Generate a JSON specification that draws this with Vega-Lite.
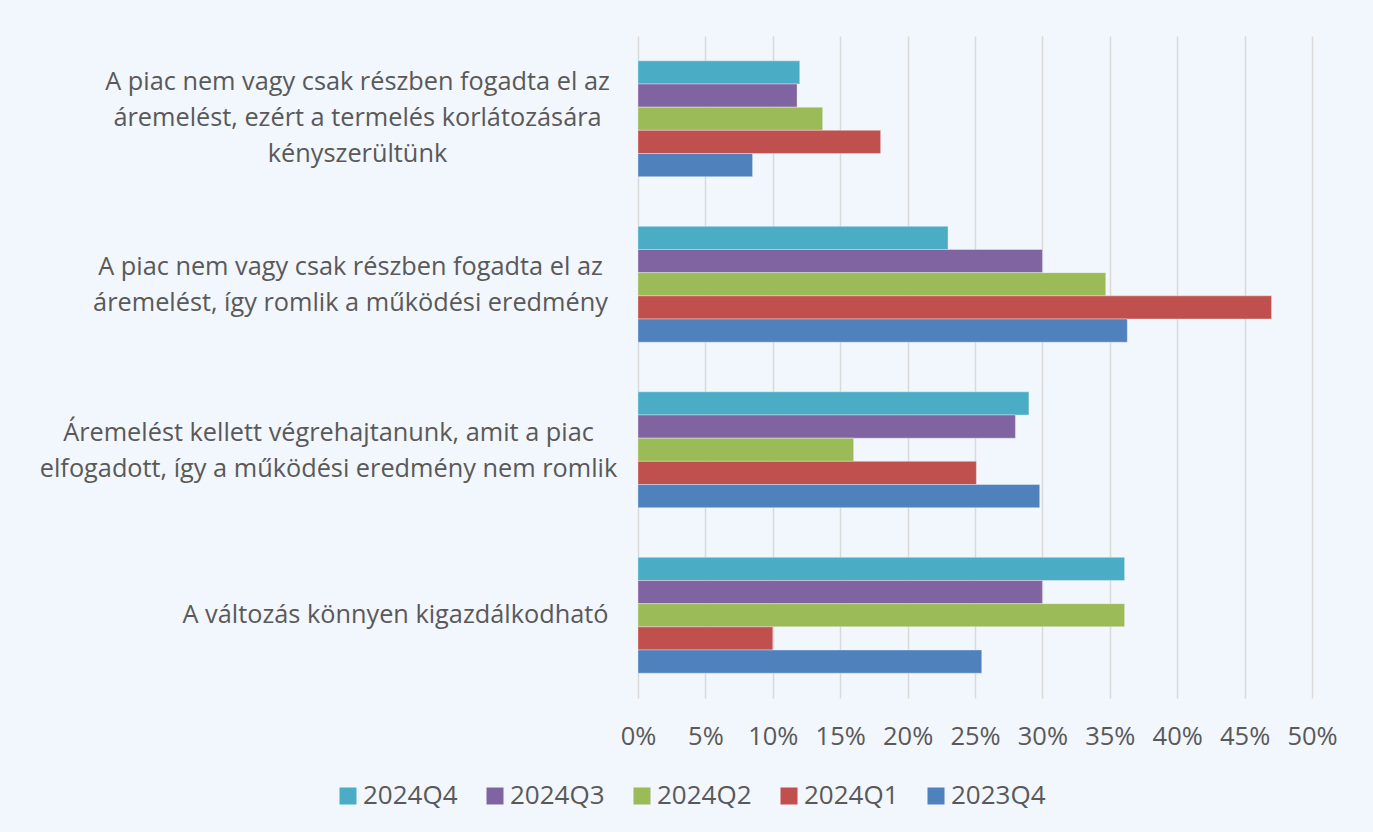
{
  "$schema": "https://vega.github.io/schema/vega-lite/v6.json",
  "autosize": "none",
  "width": 674,
  "height": 662,
  "padding": {"left": 638, "top": 36, "right": 61, "bottom": 134},
  "background": "#F2F6FD",
  "config": {
    "view": {"stroke": null},
    "font": "Open Sans"
  },
  "data": {
    "values": [
      {"cat": "A piac nem vagy csak részben fogadta el az|áremelést, ezért a termelés korlátozására|kényszerültünk", "series": "2024Q4", "value": 0.12},
      {"cat": "A piac nem vagy csak részben fogadta el az|áremelést, ezért a termelés korlátozására|kényszerültünk", "series": "2024Q3", "value": 0.118},
      {"cat": "A piac nem vagy csak részben fogadta el az|áremelést, ezért a termelés korlátozására|kényszerültünk", "series": "2024Q2", "value": 0.137},
      {"cat": "A piac nem vagy csak részben fogadta el az|áremelést, ezért a termelés korlátozására|kényszerültünk", "series": "2024Q1", "value": 0.18},
      {"cat": "A piac nem vagy csak részben fogadta el az|áremelést, ezért a termelés korlátozására|kényszerültünk", "series": "2023Q4", "value": 0.085},
      {"cat": "A piac nem vagy csak részben fogadta el az|áremelést, így romlik a működési eredmény", "series": "2024Q4", "value": 0.23},
      {"cat": "A piac nem vagy csak részben fogadta el az|áremelést, így romlik a működési eredmény", "series": "2024Q3", "value": 0.30},
      {"cat": "A piac nem vagy csak részben fogadta el az|áremelést, így romlik a működési eredmény", "series": "2024Q2", "value": 0.347},
      {"cat": "A piac nem vagy csak részben fogadta el az|áremelést, így romlik a működési eredmény", "series": "2024Q1", "value": 0.47},
      {"cat": "A piac nem vagy csak részben fogadta el az|áremelést, így romlik a működési eredmény", "series": "2023Q4", "value": 0.363},
      {"cat": "Áremelést kellett végrehajtanunk, amit a piac|elfogadott, így a működési eredmény nem romlik", "series": "2024Q4", "value": 0.29},
      {"cat": "Áremelést kellett végrehajtanunk, amit a piac|elfogadott, így a működési eredmény nem romlik", "series": "2024Q3", "value": 0.28},
      {"cat": "Áremelést kellett végrehajtanunk, amit a piac|elfogadott, így a működési eredmény nem romlik", "series": "2024Q2", "value": 0.16},
      {"cat": "Áremelést kellett végrehajtanunk, amit a piac|elfogadott, így a működési eredmény nem romlik", "series": "2024Q1", "value": 0.251},
      {"cat": "Áremelést kellett végrehajtanunk, amit a piac|elfogadott, így a működési eredmény nem romlik", "series": "2023Q4", "value": 0.298},
      {"cat": "A változás könnyen kigazdálkodható", "series": "2024Q4", "value": 0.361},
      {"cat": "A változás könnyen kigazdálkodható", "series": "2024Q3", "value": 0.30},
      {"cat": "A változás könnyen kigazdálkodható", "series": "2024Q2", "value": 0.361},
      {"cat": "A változás könnyen kigazdálkodható", "series": "2024Q1", "value": 0.10},
      {"cat": "A változás könnyen kigazdálkodható", "series": "2023Q4", "value": 0.255}
    ]
  },
  "mark": {"type": "bar", "stroke": "#ffffff", "strokeOpacity": 0.35, "strokeWidth": 1},
  "encoding": {
    "y": {
      "field": "cat",
      "type": "nominal",
      "sort": null,
      "scale": {"paddingInner": 0.3, "paddingOuter": 0.15},
      "axis": {
        "title": null,
        "domain": false,
        "ticks": false,
        "labelExpr": "split(datum.label, '|')",
        "labelAlign": "center",
        "labelBaseline": "middle",
        "labelLineHeight": 36,
        "labelFontSize": 25.3,
        "labelColor": "#595959",
        "labelLimit": 0,
        "labelPadding": {
          "condition": [
            {"test": "indexof(datum.value, 'kényszer') >= 0", "value": 281},
            {"test": "indexof(datum.value, 'így romlik') >= 0", "value": 288},
            {"test": "indexof(datum.value, 'Áremelést') >= 0", "value": 310}
          ],
          "value": 243
        },
        "labelOffset": {
          "condition": [
            {"test": "indexof(datum.value, 'kényszer') >= 0", "value": -37},
            {"test": "indexof(datum.value, 'így romlik') >= 0", "value": -17},
            {"test": "indexof(datum.value, 'Áremelést') >= 0", "value": -17}
          ],
          "value": 0
        }
      }
    },
    "yOffset": {
      "field": "series",
      "type": "nominal",
      "sort": ["2024Q4", "2024Q3", "2024Q2", "2024Q1", "2023Q4"],
      "scale": {"paddingInner": 0, "paddingOuter": 0}
    },
    "x": {
      "field": "value",
      "type": "quantitative",
      "scale": {"domain": [0, 0.5], "nice": false},
      "axis": {
        "title": null,
        "format": ".0%",
        "values": [0, 0.05, 0.1, 0.15, 0.2, 0.25, 0.3, 0.35, 0.4, 0.45, 0.5],
        "domain": false,
        "ticks": false,
        "grid": true,
        "gridColor": "#D9D9D9",
        "gridWidth": 1.5,
        "labelFontSize": 25.5,
        "labelColor": "#595959",
        "labelPadding": 26,
        "labelFlush": false,
        "labelOverlap": false
      }
    },
    "color": {
      "field": "series",
      "type": "nominal",
      "scale": {
        "domain": ["2024Q4", "2024Q3", "2024Q2", "2024Q1", "2023Q4"],
        "range": ["#4BACC6", "#8064A2", "#9BBB59", "#C0504D", "#4F81BD"]
      },
      "legend": {
        "title": null,
        "orient": "none",
        "direction": "horizontal",
        "legendX": -303,
        "legendY": 747,
        "padding": 0,
        "symbolType": "square",
        "symbolSize": 289,
        "symbolStrokeWidth": 0,
        "labelFontSize": 26,
        "labelColor": "#595959",
        "labelOffset": 2,
        "columnPadding": 24,
        "labelLimit": 0
      }
    }
  }
}
